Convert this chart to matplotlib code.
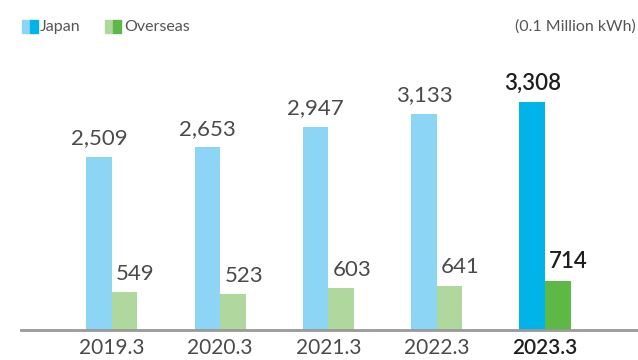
import matplotlib.pyplot as plt
from matplotlib.patches import Rectangle
import numpy as np

plt.rcParams['font.family'] = ['Lato', 'DejaVu Sans']

years = ['2019.3', '2020.3', '2021.3', '2022.3', '2023.3']
japan = [2509, 2653, 2947, 3133, 3308]
overseas = [549, 523, 603, 641, 714]

jp_light, jp_dark = '#8dd5f5', '#00b4ea'
os_light, os_dark = '#b0d89e', '#5db846'
txt = '#4a4a4a'

fig = plt.figure(figsize=(6.38, 3.6), dpi=100)
ax = fig.add_axes([21/638, 30/360, 616/638, 290/360])

x = np.arange(len(years))
w = 0.236
last = len(years) - 1
jc = [jp_dark if i == last else jp_light for i in x]
oc = [os_dark if i == last else os_light for i in x]
ax.bar(x - w/2, japan, w, color=jc)
ax.bar(x + w/2, overseas, w, color=oc)

for i in x:
    bold = i == last
    col = '#1e1e1e' if bold else txt
    fw = 'semibold' if bold else 'normal'
    ax.annotate(f'{japan[i]:,}', (i - w/2, japan[i]), xytext=(0, 6),
                textcoords='offset points', ha='center', va='bottom',
                fontsize=16, color=col, fontweight=fw)
    ax.annotate(f'{overseas[i]:,}', (i, overseas[i]), xytext=(3, 6),
                textcoords='offset points', ha='left', va='bottom',
                fontsize=16, color=col, fontweight=fw)

ax.set_xlim(-0.84, 4.85)
ax.set_ylim(0, 4203)
ax.set_xticks(x)
ax.set_xticklabels(years, fontsize=15, color=txt)
ax.get_xticklabels()[last].set_fontweight('semibold')
ax.get_xticklabels()[last].set_color('#1e1e1e')
ax.tick_params(axis='x', length=0, pad=6)
ax.set_yticks([])
for s in ['top', 'right', 'left']:
    ax.spines[s].set_visible(False)
ax.spines['bottom'].set_color('#999999')
ax.spines['bottom'].set_linewidth(2)

# legend
def swatch(x0, c1, c2):
    fig.patches.append(Rectangle((x0/638, 1 - 33/360), 8/638, 13/360,
                                 transform=fig.transFigure, color=c1))
    fig.patches.append(Rectangle((x0/638 + 8/638, 1 - 33/360), 8/638, 13/360,
                                 transform=fig.transFigure, color=c2))

swatch(22, jp_light, jp_dark)
swatch(105, os_light, os_dark)
fig.text(40/638, 1 - 27/360, 'Japan', fontsize=11.5, color='#555555', va='center')
fig.text(124/638, 1 - 27/360, 'Overseas', fontsize=11.5, color='#555555', va='center')
fig.text(636/638, 1 - 27/360, '(0.1 Million kWh)', fontsize=11.5, color='#555555',
         va='center', ha='right')

fig.savefig('out.png', dpi=100)
